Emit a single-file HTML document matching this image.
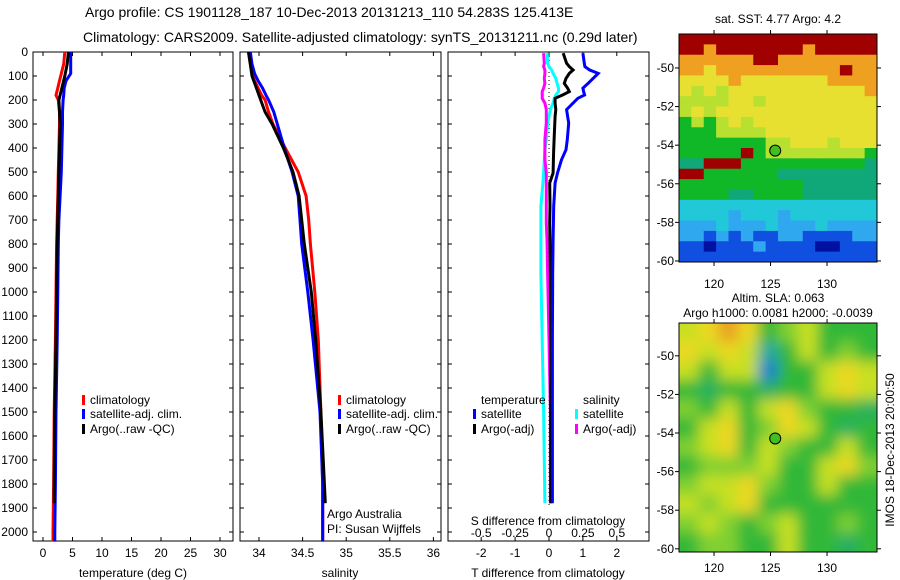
<!DOCTYPE html>
<html><head><meta charset="utf-8">
<style>
html,body{margin:0;padding:0;background:#fff;}
svg{display:block;font-family:"Liberation Sans",sans-serif;}
text{fill:#000;}
</style></head>
<body>
<svg id="fig" width="900" height="580" viewBox="0 0 900 580" xmlns="http://www.w3.org/2000/svg">
<defs>
<filter id="blur" x="-10%" y="-10%" width="120%" height="120%"><feGaussianBlur stdDeviation="7"/></filter>
<clipPath id="clipMap2"><rect x="679" y="323" width="198" height="229"/></clipPath>
<clipPath id="clipMap1"><rect x="679" y="34" width="198" height="228"/></clipPath>
</defs>
<text x="85" y="17" font-size="14">Argo profile: CS 1901128_187 10-Dec-2013 20131213_110 54.283S 125.413E</text>
<text x="83" y="42" font-size="14">Climatology: CARS2009. Satellite-adjusted climatology: synTS_20131211.nc (0.29d later)</text>
<g id="g"></g>
</svg>
<script>
// ---- profile data ----
const tDepth = [0,50,90,120,150,180,200,250,300,400,500,600,700,800,1000,1200,1500,1800,2000,2040];
const tClim  = [3.7,3.5,3.1,2.8,2.5,2.2,2.6,2.8,2.8,2.7,2.6,2.5,2.4,2.3,2.2,2.1,1.9,1.8,1.7,1.7];
const tSat   = [4.7,4.7,4.7,3.9,3.6,3.5,3.4,3.3,3.3,3.2,3.1,2.9,2.7,2.6,2.5,2.4,2.2,2.1,2.0,2.0];
const argoDepth = [0,50,100,150,200,250,300,400,500,600,800,1000,1200,1500,1800,1880];
const tArgo  = [4.3,4.1,3.7,3.2,2.7,2.8,2.9,2.8,2.7,2.6,2.4,2.3,2.2,2.0,1.9,1.9];
const sClim  = [33.88,33.9,33.92,33.95,33.99,34.03,34.07,34.11,34.16,34.3,34.45,34.54,34.57,34.59,34.64,34.68,34.71,34.73,34.73,34.73];
const sSat   = [33.9,33.92,33.95,33.99,34.04,34.08,34.11,34.17,34.21,34.29,34.38,34.45,34.47,34.49,34.56,34.62,34.7,34.73,34.73,34.73];
const sArgo  = [33.88,33.9,33.92,33.97,34.02,34.07,34.15,34.28,34.39,34.46,34.52,34.6,34.65,34.71,34.75,34.76];
const dDepth = [5,47,61,75,89,110,131,151,165,179,193,213,240,268,296,365,407,449,504,546,643,713,782,921,1200,1500,1880];
const dtSat  = [1.0,1.04,1.06,1.2,1.45,1.3,1.15,1.0,1.02,1.05,0.85,0.71,0.52,0.55,0.58,0.54,0.5,0.37,0.25,0.18,0.14,0.13,0.12,0.11,0.1,0.1,0.1];
const dtArgo = [0.42,0.52,0.6,0.71,0.6,0.5,0.45,0.55,0.6,0.4,0.18,0.18,0.2,0.18,0.17,0.15,0.14,0.13,0.12,0.02,0.03,0.02,0.03,0.04,0.05,0.05,0.05];
const dsSat  = [-0.013,-0.01,0.0,0.02,0.03,0.05,0.06,0.07,0.07,0.05,0.04,0.03,0.01,0.0,-0.01,-0.02,-0.03,-0.035,-0.04,-0.045,-0.06,-0.06,-0.06,-0.06,-0.05,-0.04,-0.03];
const dsArgo = [-0.04,-0.035,-0.04,-0.03,-0.03,-0.035,-0.03,-0.04,-0.05,-0.05,-0.05,-0.03,-0.02,-0.02,-0.02,-0.03,-0.03,-0.03,-0.02,-0.02,-0.02,-0.02,-0.015,-0.01,0.0,0.01,0.01];
const depthTicks = [0,100,200,300,400,500,600,700,800,900,1000,1100,1200,1300,1400,1500,1600,1700,1800,1900,2000];
const tTicks = [0,5,10,15,20,25,30];
const sTicks = [34,34.5,35,35.5,36];
const dtTicks = [-2,-1,0,1,2];
const dsTicks = [-0.5,-0.25,0,0.25,0.5];
const dsTickLabels = ["-0.5","-0.25","0","0.25","0.5"];
// ---- map data ----
const latTicks = [-50,-52,-54,-56,-58,-60];
const lonTicks = [120,125,130];
const sstRows = [
"9999999999999999","9989999999899999","8888889988888888","8878888888888988",
"7777877777778888","7676777777777778","6666776777777777","6767777777777777",
"5656767777777777","5556666777777777","5555555667776777","5555595666666665",
"4499955555555554","9955555544444444","5555555555444444","5555445555444444",
"3333333333333333","3333233323333333","2223222322232222","2212121122111122",
"1101112111100111","1111111111111111"];
const slaRows = [
"6787456444","7676246454","6466144676","4344344676","5464675443","4674576434",
"5674654464","4555644675","5667544644","6567444444","5654564454","4554464434"];
const argoLon = 125.413, argoLat = -54.283;

const NS="http://www.w3.org/2000/svg";
const G=document.getElementById('g');
function el(tag,attrs,parent){const e=document.createElementNS(NS,tag);for(const k in attrs)e.setAttribute(k,attrs[k]);(parent||G).appendChild(e);return e;}
function txt(x,y,s,size,anchor,parent){const t=el('text',{x:x,y:y,'font-size':size,'text-anchor':anchor||'start'},parent);t.textContent=s;return t;}

const top0=52,bot0=541;
const yD=d=>top0+0.24*d;
const xT=t=>43+5.9*t;
const xS=s=>259+87.2*(s-34);
const xDT=v=>549+33.9*v;
const xDS=v=>549+135.6*v;
const panels=[{x0:33,x1:233,name:'temperature-panel'},{x0:240,x1:441,name:'salinity-panel'},{x0:448,x1:649,name:'difference-panel'}];

panels.forEach((p,i)=>{
  const r=el('rect',{x:p.x0,y:top0,width:p.x1-p.x0,height:bot0-top0,fill:'none',stroke:'#000','stroke-width':1});
  
  
  depthTicks.forEach(d=>{
    el('line',{x1:p.x0,x2:p.x0+4,y1:yD(d),y2:yD(d),stroke:'#000'});
    el('line',{x1:p.x1-4,x2:p.x1,y1:yD(d),y2:yD(d),stroke:'#000'});
  });
});
depthTicks.forEach(d=>{const t=txt(28,yD(d)+4,String(d),12,'end');
  
  });

function xticks(arr,fx,labels,p){
  arr.forEach((v,i)=>{const x=fx(v);
    el('line',{x1:x,x2:x,y1:bot0,y2:bot0-4,stroke:'#000'});
    el('line',{x1:x,x2:x,y1:top0,y2:top0+4,stroke:'#000'});
    const t=txt(x,bot0+16,labels?labels[i]:String(v),12,'middle');
    
    
  });
}
xticks(tTicks,xT,null);
xticks(sTicks,xS,null);
xticks(dtTicks,xDT,null);
dsTicks.forEach((v,i)=>{const t=txt(xDS(v),537,dsTickLabels[i],12,'middle');
  
  });

const at1=txt(133,577,'temperature (deg C)',12,'middle');
const at2=txt(340,577,'salinity',12,'middle');
const at3=txt(548,577,'T difference from climatology',12,'middle');
const at4=txt(548,525,'S difference from climatology',12,'middle');
const ag1=txt(327,518,'Argo Australia',12);
const ag2=txt(327,533,'PI: Susan Wijffels',12);

const zl=el('line',{x1:xDT(0),x2:xDT(0),y1:yD(0),y2:yD(1900),stroke:'#000','stroke-dasharray':'1,3'});


function series(xs,ds,fx,color,name){
  const pts=xs.map((v,i)=>fx(v).toFixed(1)+','+yD(ds[i]).toFixed(1)).join(' ');
  const l=el('polyline',{points:pts,fill:'none',stroke:color,'stroke-width':3,'stroke-linejoin':'miter'});
  
  
}
series(tClim,tDepth,xT,'#f00','temp-climatology-line');
series(tSat,tDepth,xT,'#00f','temp-satellite-line');
series(tArgo,argoDepth,xT,'#000','temp-argo-line');
series(sClim,tDepth,xS,'#f00','sal-climatology-line');
series(sSat,tDepth,xS,'#00f','sal-satellite-line');
series(sArgo,argoDepth,xS,'#000','sal-argo-line');
series(dsSat,dDepth,xDS,'#0ff','s-diff-satellite-line');
series(dsArgo,dDepth,xDS,'#f0f','s-diff-argo-line');
series(dtArgo,dDepth,xDT,'#000','t-diff-argo-line');
series(dtSat,dDepth,xDT,'#00f','t-diff-satellite-line');

function legend(x,y,color,label){
  const m=el('rect',{x:x,y:y-9,width:3,height:10,fill:color});
  
  const t=txt(x+8,y,label,12);
  
}
legend(82,404,'#f00','climatology');legend(82,418,'#00f','satellite-adj. clim.');legend(82,433,'#000','Argo(..raw -QC)');
legend(338,404,'#f00','climatology');legend(338,418,'#00f','satellite-adj. clim.');legend(338,433,'#000','Argo(..raw -QC)');
const lt1=txt(481,404,'temperature',12);
const lt2=txt(583,404,'salinity',12);
legend(473,418,'#00f','satellite');legend(473,433,'#000','Argo(-adj)');
legend(575,418,'#0ff','satellite');legend(575,433,'#f0f','Argo(-adj)');

// ---- maps ----
const sstColors=['#0010a0','#1050e0','#30a8f0','#20c8d8','#10a878','#10b828','#b8e030','#e8e030','#f0a020','#a00000'];
const slaColors=['#0040c0','#1080d0','#20a8a0','#28b060','#30b838','#80d030','#c8e020','#eed820','#e8a020','#a00000'];
function mapAxes(x0,y0,w,h,lat0,lonL,pxLon,pxLat,name){
  const xL=v=>x0+(v-lonL)*pxLon, yL=v=>y0+(lat0-v)*pxLat;
  return {xL,yL};
}
function drawMapFrame(x0,y0,w,h,xL,yL,name,labelY){
  const f=el('rect',{x:x0,y:y0,width:w,height:h,fill:'none',stroke:'#000'});
  
  latTicks.forEach(v=>{const y=yL(v);
    el('line',{x1:x0-4,x2:x0,y1:y,y2:y,stroke:'#000'});
    el('line',{x1:x0+w,x2:x0+w+4,y1:y,y2:y,stroke:'#000'});
    const t=txt(x0-5,y+4,String(v),12,'end');
    });
  lonTicks.forEach(v=>{const x=xL(v);
    el('line',{x1:x,x2:x,y1:y0+h,y2:y0+h+4,stroke:'#000'});
    el('line',{x1:x,x2:x,y1:y0-4,y2:y0,stroke:'#000'});
    const t=txt(x,labelY,String(v),12,'middle');
    });
}
{
 const x0=679,y0=34,w=198,h=228;
 const {xL,yL}=mapAxes(x0,y0,w,h,-48.24,116.9,11.3,19.3);
 const g1=el('g',{'clip-path':'url(#clipMap1)'});
 
 const nr=sstRows.length,nc=sstRows[0].length,cw=w/nc,ch=h/nr;
 sstRows.forEach((row,r)=>{for(let c=0;c<nc;c++){
   const cell=el('rect',{x:x0+c*cw,y:y0+r*ch,width:cw+0.5,height:ch+0.5,fill:sstColors[+row[c]]},g1);
   
   
 }});
 drawMapFrame(x0,y0,w,h,xL,yL,'sst-map',288);
 const m=el('circle',{cx:xL(argoLon),cy:yL(argoLat),r:5.5,fill:'#40c020',stroke:'#000'});
 
 const t=txt(778,23,'sat. SST: 4.77 Argo: 4.2',12,'middle');
 
}
{
 const x0=679,y0=323,w=198,h=229;
 const {xL,yL}=mapAxes(x0,y0,w,h,-48.3,116.9,11.3,19.3);
 const g2=el('g',{'clip-path':'url(#clipMap2)'});
 
 el('rect',{x:x0,y:y0,width:w,height:h,fill:slaColors[4]},g2);
 const gb=el('g',{filter:'url(#blur)'},g2);
 const nr=slaRows.length,nc=slaRows[0].length,cw=w/nc,ch=h/nr;
 slaRows.forEach((row,r)=>{for(let c=0;c<nc;c++){
   const cell=el('rect',{x:x0+c*cw-(c==0?15:0),y:y0+r*ch-(r==0?15:0),width:cw+(c==0||c==nc-1?15:0),height:ch+(r==0||r==nr-1?15:0),fill:slaColors[+row[c]]},gb);
   
   
 }});
 drawMapFrame(x0,y0,w,h,xL,yL,'sla-map',572);
 const m=el('circle',{cx:xL(argoLon),cy:yL(argoLat),r:5.5,fill:'#40c020',stroke:'#000'});
 
 const t1=txt(778,302,'Altim. SLA: 0.063',12,'middle');
 
 const t2=txt(778,317,'Argo h1000: 0.0081 h2000: -0.0039',12,'middle');
 
}
const im=txt(0,0,'IMOS 18-Dec-2013 20:00:50',12,'middle');
im.setAttribute('transform','translate(894,450) rotate(-90)');


</script>
</body></html>
